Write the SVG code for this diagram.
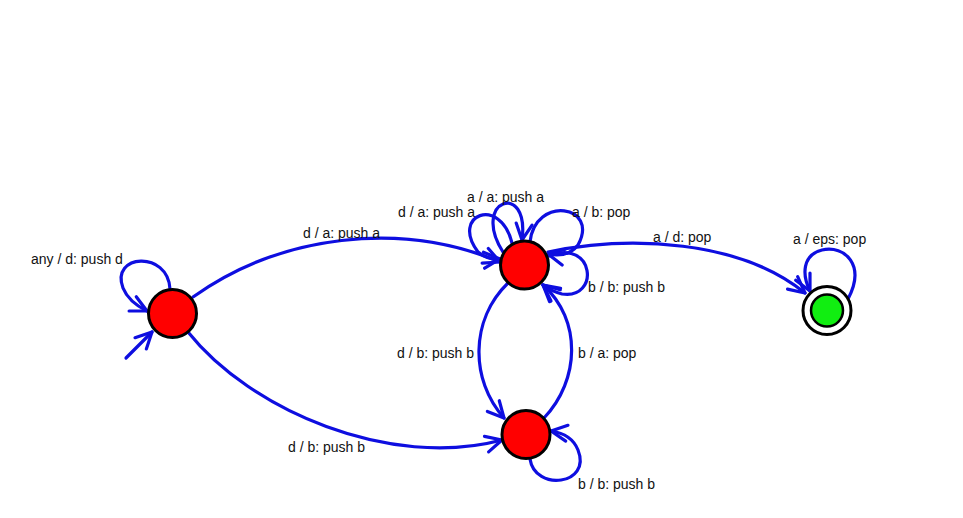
<svg xmlns="http://www.w3.org/2000/svg" width="963" height="518" viewBox="0 0 963 518">
<style>
.e{fill:none;stroke:#0e0ee0;stroke-width:3.2;stroke-linecap:round}
.s{fill:#ff0000;stroke:#000;stroke-width:3}
.t{font-family:"Liberation Sans",Arial,sans-serif;font-size:14px;fill:#111}
</style>
<defs>
<marker id="a" markerUnits="userSpaceOnUse" markerWidth="30" markerHeight="30" refX="0" refY="0" viewBox="-20 -15 30 30" orient="auto" overflow="visible">
<path d="M-16,-8 L0,0 L-16,8" fill="none" stroke="#0e0ee0" stroke-width="3.2" stroke-linecap="round" stroke-linejoin="round"/>
</marker>
</defs>
<rect width="963" height="518" fill="#fff"/>
<g id="connectors">
<path class="e" d="M126 358 L152 332" marker-end="url(#a)"/>
<path class="e" d="M170 289 C168 250,110 254,123 288 C127 298,135 305,147 311" marker-end="url(#a)"/>
<path class="e" d="M193 297 C280 235,400 220,500 262" marker-end="url(#a)"/>
<path class="e" d="M188 332 C250 410,390 470,502 440" marker-end="url(#a)"/>
<path class="e" d="M508 283 C470 320,470 380,504 418" marker-end="url(#a)"/>
<path class="e" d="M544 418 C580 380,582 320,543 285" marker-end="url(#a)"/>
<path class="e" d="M530 459 C535 492,592 485,578 450 C574 440,565 433,551 431" marker-end="url(#a)"/>
<path class="e" d="M548 252 C630 235,740 240,805 293" marker-end="url(#a)"/>
<path class="e" d="M848 299 C866 265,845 245,822 250 C802 255,802 275,810 291" marker-end="url(#a)"/>
<path class="e" d="M512 243 C500 195,450 215,478 252 Q487 260,500 259" marker-end="url(#a)"/>
<path class="e" d="M503 252 C470 200,530 180,522 240" marker-end="url(#a)"/>
<path class="e" d="M530 242 C535 195,600 205,578 245 Q568 258,548 254" marker-end="url(#a)"/>
<path class="e" d="M549 256 C595 238,600 300,562 294 Q551 291,543 285" marker-end="url(#a)"/>
</g>
<g id="q0"><circle class="s" cx="172.5" cy="313.5" r="24"/></g>
<g id="q1"><circle class="s" cx="524.5" cy="265" r="24"/></g>
<g id="q2"><circle class="s" cx="526" cy="434.5" r="24"/></g>
<g id="q3"><circle cx="827" cy="310.5" r="24" fill="#fff" stroke="#000" stroke-width="3"/><circle cx="827" cy="310.5" r="16" fill="#11ee11" stroke="#000" stroke-width="2.5"/></g>
<g id="labels">
<text class="t" x="31" y="264">any / d: push d</text>
<text class="t" x="303" y="238">d / a: push a</text>
<text class="t" x="467" y="202">a / a: push a</text>
<text class="t" x="398" y="217">d / a: push a</text>
<text class="t" x="572" y="217">a / b: pop</text>
<text class="t" x="588" y="292">b / b: push b</text>
<text class="t" x="653" y="242">a / d: pop</text>
<text class="t" x="793" y="244">a / eps: pop</text>
<text class="t" x="397" y="358">d / b: push b</text>
<text class="t" x="578" y="358">b / a: pop</text>
<text class="t" x="288" y="452">d / b: push b</text>
<text class="t" x="578" y="489">b / b: push b</text>
</g>
</svg>
